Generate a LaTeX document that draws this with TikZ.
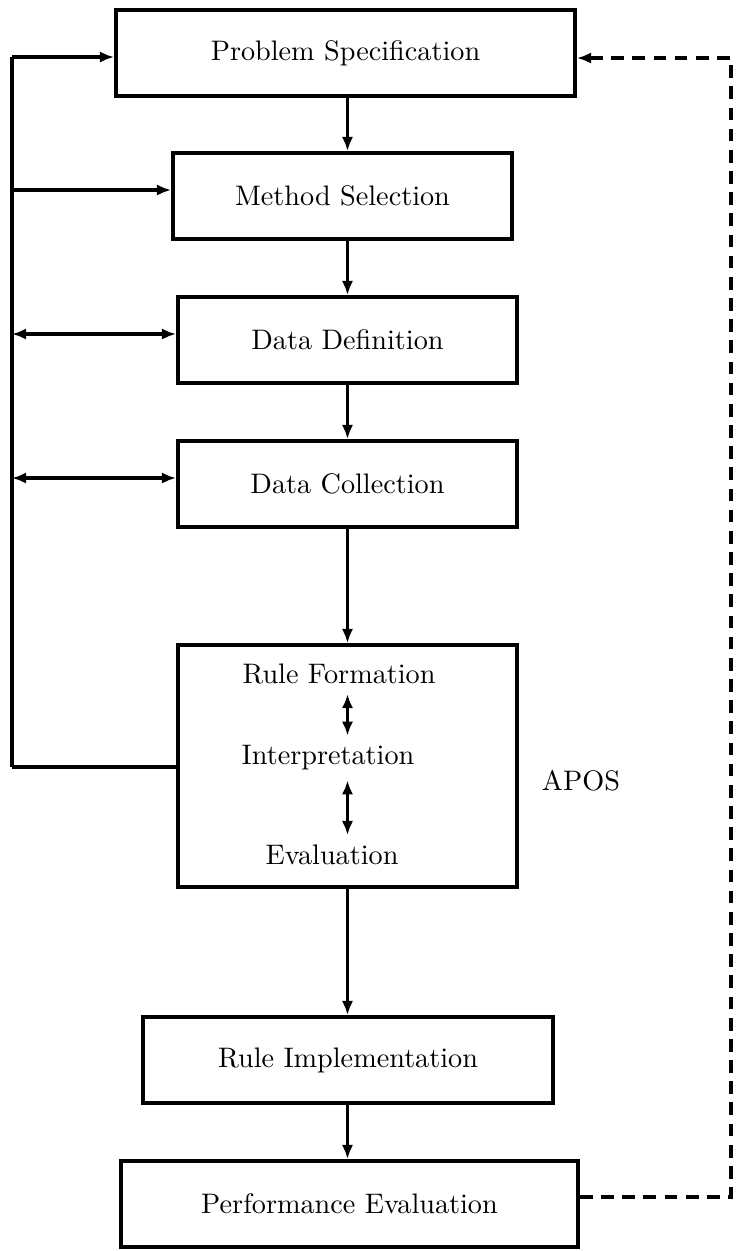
\documentclass[tikz,border=0pt]{standalone}
\usetikzlibrary{arrows.meta}
\newcommand{\pxu}{0.3543pt}
\tikzset{%
  box/.style={rectangle, draw=black, line width=1.4pt, inner sep=0pt, minimum height=86*\pxu},
  arr/.style={line width=1.2pt, -{Latex[length=5pt,width=4pt]}},
  dbl/.style={line width=1.2pt, {Latex[length=5pt,width=4pt]}-{Latex[length=5pt,width=4pt]}},
  fb/.style={line width=1.2pt, dash pattern=on 4.5pt off 3pt, -{Latex[length=5pt,width=4pt]}},
}

\begin{document}
\begin{tikzpicture}[x=\pxu, y=-\pxu]
  \useasboundingbox (0,0) rectangle (736,1251);
  % main steps
  \node[box, minimum width=459*\pxu] (ps) at (345.5,53) {Problem Specification};
  \node[box, minimum width=339*\pxu] (ms) at (342.5,196) {Method Selection};
  \node[box, minimum width=339*\pxu] (dd) at (347.5,340) {Data Definition};
  \node[box, minimum width=339*\pxu] (dc) at (347.5,484) {Data Collection};
  \node[box, minimum width=339*\pxu, minimum height=242*\pxu] (rb) at (347.5,766) {};
  \node[box, minimum width=410*\pxu] (ri) at (348,1060) {Rule Implementation};
  \node[box, minimum width=457*\pxu] (pe) at (349.5,1204) {Performance Evaluation};
  % inside the rule box
  \node (rf) at (339,674) {Rule Formation};
  \node (ip) at (328,758) {Interpretation};
  \node (ev) at (332,855) {Evaluation};
  \node (apos) at (581,781) {APOS};
  \draw[dbl] (rf.south -| dd) -- (ip.north -| dd);
  \draw[dbl] (ip.south -| dd) -- (ev.north -| dd);
  % flow downwards
  \foreach \a/\b in {ps/ms, ms/dd, dd/dc, dc/rb, rb/ri, ri/pe}{
    \draw[arr] (\a.south -| dd) -- (\b.north -| dd);
  }
  % left bus
  \coordinate (l1) at (12,57);
  \coordinate (l2) at (12,190);
  \coordinate (l3) at (12,334);
  \coordinate (l4) at (12,478);
  \coordinate (l5) at (12,767);
  \draw[line width=1.2pt] (l1) -- (l5);
  \draw[arr] (l1) -- (ps.west |- l1);
  \draw[arr] (l2) -- (ms.west |- l2);
  \draw[dbl] (l3) -- (dd.west |- l3);
  \draw[dbl] (l4) -- (dc.west |- l4);
  \draw[line width=1.2pt] (l5) -- (rb.west |- l5);
  % feedback
  \coordinate (fr) at (731,1197);
  \coordinate (ft) at (731,58);
  \draw[fb] (pe.east |- fr) -- (fr) -- (ft) -- (ps.east |- ft);
\end{tikzpicture}
\end{document}
